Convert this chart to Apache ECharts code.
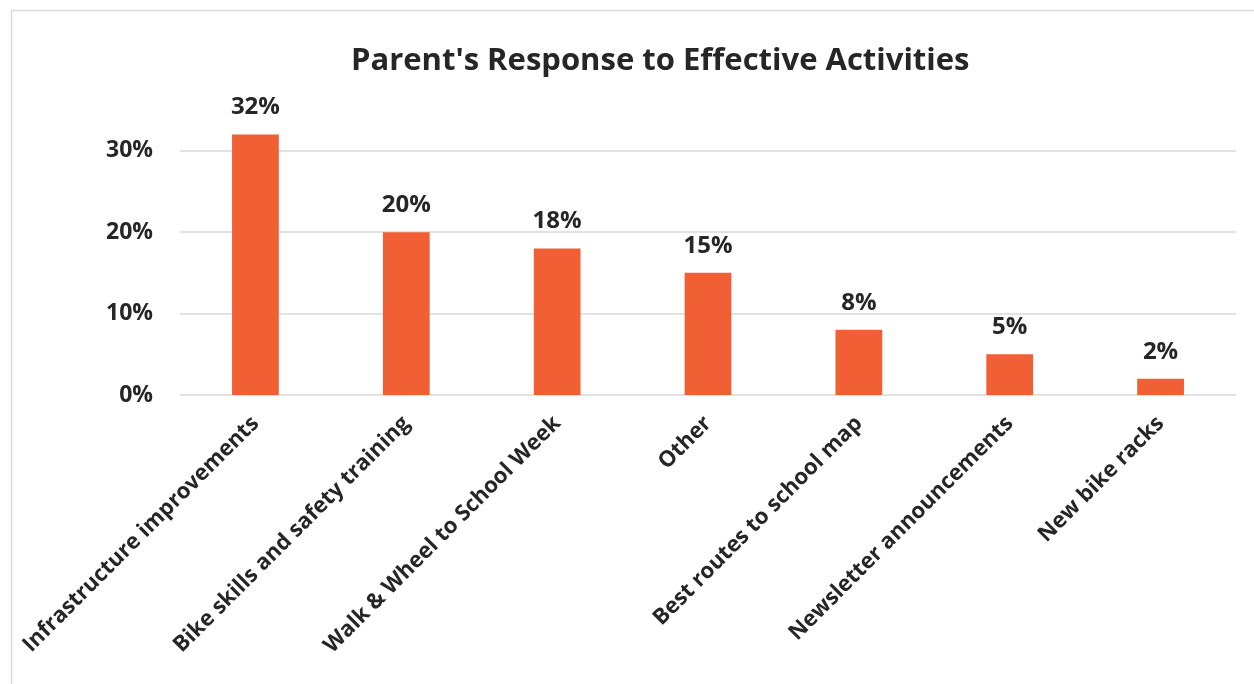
<!DOCTYPE html>
<html>
<head>
<meta charset="utf-8">
<script src="https://cdn.jsdelivr.net/npm/echarts@6/dist/echarts.min.js"></script>
<style>
  html, body { margin: 0; padding: 0; background: #fff; }
  #chart { width: 1254px; height: 684px; }
</style>
</head>
<body>
<div id="chart"></div>
<script>
// Activities parents rated as effective, share of responses
const categories = [
  'Infrastructure improvements',
  'Bike skills and safety training',
  'Walk & Wheel to School Week',
  'Other',
  'Best routes to school map',
  'Newsletter announcements',
  'New bike racks'
];
const shares = [0.32, 0.20, 0.18, 0.15, 0.08, 0.05, 0.02];
const yTicks = [0, 0.1, 0.2, 0.3];

const FONT = '"Open Sans", sans-serif';
const TEXT = '#262626';
const pct = v => Math.round(v * 100) + '%';

const chart = echarts.init(document.getElementById('chart'), null, { renderer: 'canvas' });
chart.setOption({
  animation: false,
  backgroundColor: '#ffffff',
  textStyle: { fontFamily: FONT },
  graphic: [{
    type: 'rect',
    shape: { x: 11.5, y: 10.5, width: 1260, height: 700 },
    style: { fill: 'none', stroke: '#d9d9d9', lineWidth: 1.5 },
    silent: true
  }],
  title: {
    text: "Parent's Response to Effective Activities",
    left: 346,
    top: 41,
    textStyle: { fontFamily: FONT, fontWeight: 'bold', fontSize: 31, color: TEXT }
  },
  grid: { left: 180, right: 18, top: 110, bottom: 289, containLabel: false },
  xAxis: {
    type: 'category',
    data: categories,
    axisLine: { show: false },
    axisTick: { show: false },
    axisLabel: {
      rotate: 45,
      interval: 0,
      margin: 25,
      fontFamily: FONT,
      fontWeight: 'bold',
      fontSize: 22,
      color: TEXT
    }
  },
  yAxis: {
    type: 'value',
    min: 0,
    max: 0.35,
    interval: 0.1,
    axisLine: { show: false },
    axisTick: { show: false },
    splitLine: { show: false },
    axisLabel: {
      margin: 27,
      showMaxLabel: false,
      fontFamily: FONT,
      fontWeight: 'bold',
      fontSize: 23,
      color: TEXT,
      formatter: v => (yTicks.some(t => Math.abs(t - v) < 1e-9) ? pct(v) : '')
    }
  },
  series: [{
    type: 'bar',
    data: shares,
    barWidth: '31%',
    itemStyle: { color: '#F15F35' },
    label: {
      show: true,
      position: 'top',
      distance: 15,
      fontFamily: FONT,
      fontWeight: 'bold',
      fontSize: 24,
      color: TEXT,
      formatter: p => pct(p.value)
    },
    markLine: {
      silent: true,
      symbol: 'none',
      label: { show: false },
      lineStyle: { color: '#d9d9d9', type: 'solid', width: 1.5 },
      data: yTicks.map(t => ({ yAxis: t })),
      z: 0
    },
    z: 2
  }]
});
</script>
</body>
</html>
